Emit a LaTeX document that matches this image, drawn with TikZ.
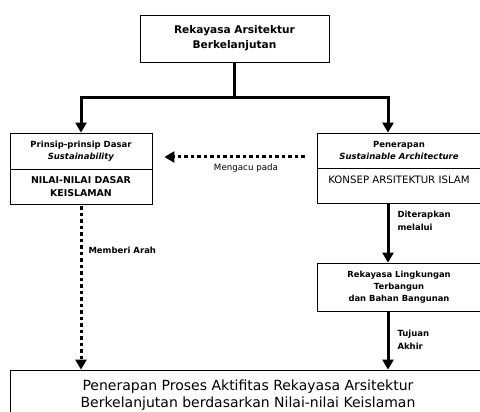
\documentclass[tikz,border=0pt]{standalone}
\usepackage{fontspec}
\setmainfont{DejaVu Sans}
\usetikzlibrary{arrows.meta}
\begin{document}
\begin{tikzpicture}[x=1pt,y=-1pt,
  box/.style={draw, line width=0.8pt, inner sep=0pt, align=center},
  conn/.style={line width=3pt, -{Triangle[length=10pt,width=11pt]}},
  dotconn/.style={line width=3pt, dash pattern=on 3.5pt off 3pt, -{Triangle[length=10pt,width=11pt]}},
  lbl/.style={font=\fontsize{8.5}{13}\selectfont\bfseries, align=left, inner sep=0pt}
]
\useasboundingbox (0,0) rectangle (480,412);
\fill[white] (0,0) rectangle (480,412);
\begin{scope}
\clip (0,0) rectangle (480,412);

\node[box, minimum width=189pt, minimum height=47pt, font=\fontsize{10.6}{15}\selectfont\bfseries] (top) at (234.5,38.5) {Rekayasa Arsitektur\\Berkelanjutan};

\node[box, minimum width=142pt, minimum height=36pt, font=\fontsize{8.5}{12}\selectfont\bfseries] (lefttop) at (81,151) {Prinsip-prinsip Dasar\\\textit{Sustainability}};
\node[box, minimum width=142pt, minimum height=35pt, font=\fontsize{9.4}{13}\selectfont\bfseries] (leftbot) at (81,186.5) {NILAI-NILAI DASAR\\KEISLAMAN};

\node[box, minimum width=164pt, minimum height=35pt, font=\fontsize{8.5}{12}\selectfont\bfseries] (righttop) at (399,150.5) {Penerapan\\\textit{Sustainable Architecture}};
\node[box, minimum width=164pt, minimum height=35pt, font=\fontsize{10.2}{12}\selectfont] (rightbot) at (399,185.5) {KONSEP ARSITEKTUR ISLAM\\\mbox{}};

\node[box, minimum width=164pt, minimum height=48pt, font=\fontsize{8.4}{12}\selectfont\bfseries] (mid) at (399,287) {Rekayasa Lingkungan\\Terbangun\\dan Bahan Bangunan};

\node[box, minimum width=476pt, minimum height=50pt, font=\fontsize{14}{16.5}\selectfont] (bottom) at (248,395) {Penerapan Proses Aktifitas Rekayasa Arsitektur\\Berkelanjutan berdasarkan Nilai-nilai Keislaman};

% top split
\draw[line width=3pt] (top.south) -- ++(0,35) coordinate (j);
\draw[conn] (j) -| (lefttop.north);
\draw[conn] (j) -| ([xshift=-11pt]righttop.north);

% dotted horizontal
\draw[dotconn, shorten <=12pt, shorten >=12pt] (righttop.west |- 0,157) -- (lefttop.east |- 0,157)
  node[pos=0.43, yshift=-11pt, font=\fontsize{8.7}{10}\selectfont, inner sep=0pt] {Mengacu pada};

% left dotted down
\draw[dotconn, shorten <=2pt] (leftbot.south) -- (bottom.north -| leftbot.south)
  node[lbl, pos=0.28, anchor=west, xshift=6pt] {Memberi Arah};

% right chain
\coordinate (rb) at ([xshift=-11pt]rightbot.south);
\coordinate (mn) at ([xshift=-11pt]mid.north);
\coordinate (ms) at ([xshift=-11pt]mid.south);
\draw[conn] (rb) -- (mn)
  node[lbl, pos=0.3, anchor=west, xshift=8pt] {Diterapkan\\melalui};
\draw[conn] (ms) -- (bottom.north -| ms)
  node[lbl, pos=0.49, anchor=west, xshift=8pt] {Tujuan\\Akhir};
\end{scope}
\end{tikzpicture}
\end{document}
